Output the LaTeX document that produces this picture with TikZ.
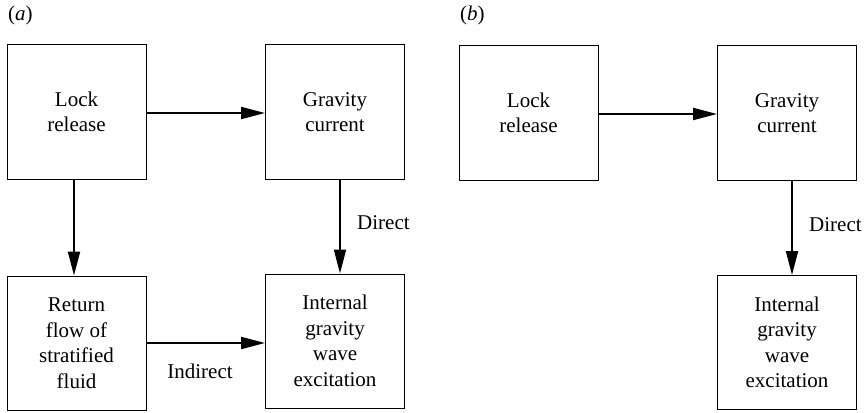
\documentclass[tikz,border=0pt]{standalone}
\usepackage{fontspec}
\setmainfont{Liberation Serif}
\usetikzlibrary{arrows.meta}
\begin{document}
\begin{tikzpicture}[x=1pt,y=-1pt,
  box/.style={draw,line width=1pt,minimum width=139pt,minimum height=134pt,inner sep=0pt,align=center,font=\fontsize{21}{25.5}\selectfont},
  lbl/.style={inner sep=0pt,font=\fontsize{21}{25}\selectfont},
  conn/.style={line width=2pt,-{Triangle[length=24pt,width=12pt]}}]
\useasboundingbox (0,0) rectangle (866,412);
% panel a
\node[lbl,anchor=west] (pa) at (8,15) {(\textit{a})};
\node[box] (la) at (76.5,112) {Lock\\release};
\node[box] (ga) at (335,112) {Gravity\\current};
\node[box] (ra) at (76.5,343) {Return\\flow of\\stratified\\fluid};
\node[box] (ia) at (335,341) {Internal\\gravity\\wave\\excitation};
\draw[conn] ([yshift=-1pt]la.east) -- ([yshift=-1pt]la.east -| ga.west);
\draw[conn] ([xshift=-2.5pt]la.south) -- ([xshift=-2.5pt]ra.north);
\draw[conn] ([xshift=5pt]ga.south) -- ([xshift=5pt]ia.north);
\draw[conn] (ra.east) -- (ra.east -| ia.west);
\node[lbl,anchor=west] (da) at (357,223) {Direct};
\node[lbl] (ind) at (200,371) {Indirect};
% panel b
\node[lbl,anchor=west] (pb) at (460,15) {(\textit{b})};
\node[box] (lb) at (528.5,113) {Lock\\release};
\node[box] (gb) at (787,113) {Gravity\\current};
\node[box] (ib) at (787,342.5) {Internal\\gravity\\wave\\excitation};
\draw[conn] ([yshift=-1pt]lb.east) -- ([yshift=-1pt]lb.east -| gb.west);
\draw[conn] ([xshift=5pt]gb.south) -- ([xshift=5pt]ib.north);
\node[lbl,anchor=west] (db) at (809,225) {Direct};
\end{tikzpicture}
\end{document}
